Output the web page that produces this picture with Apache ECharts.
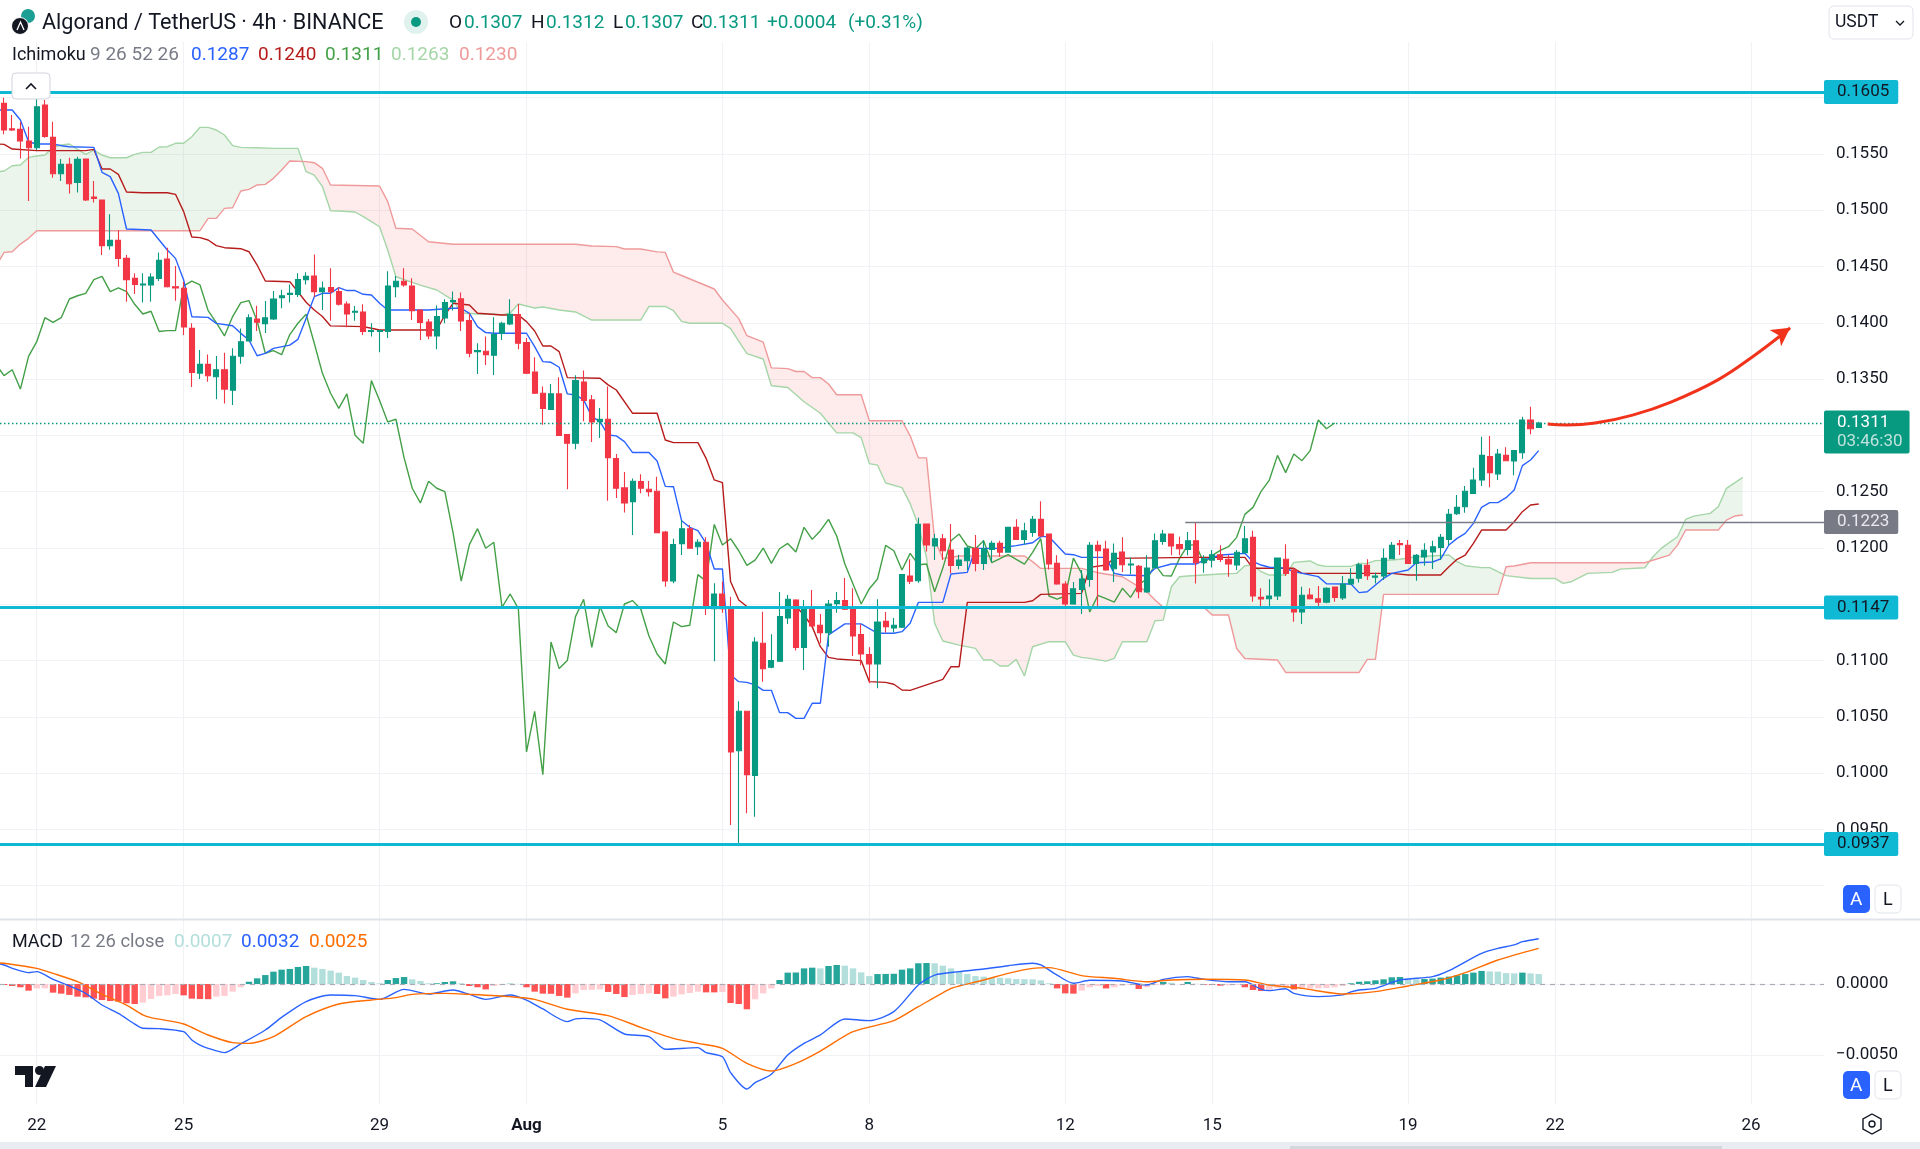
<!DOCTYPE html>
<html><head><meta charset="utf-8"><style>html,body{margin:0;padding:0;background:#fff}#c{width:1920px;height:1149px}</style>
<script src="https://cdn.jsdelivr.net/npm/echarts@6/dist/echarts.min.js"></script></head>
<body><div id="c"></div><script>
const firstBar = -4;
const opens = [.15949,.15724,.15718,.15614,.15555,.15934,.15647,.15324,.15407,.15247,
.15454,.15117,.15090,.14685,.14732,.14572,.14394,.14335,.14335,.14394,
.14566,.14320,.14306,.13950,.13553,.13630,.13521,.13583,.13400,.13702,
.13838,.14033,.13992,.14033,.14223,.14252,.14252,.14383,.14416,.14277,
.14312,.14277,.14167,.14093,.14096,.13922,.13924,.13922,.14321,.14369,
.14327,.14114,.14007,.13883,.14043,.14188,.14212,.14019,.13744,.13747,
.13711,.13907,.13990,.14073,.13824,.13563,.13374,.13231,.13368,.13007,
.12930,.13474,.13315,.13122,.13143,.12793,.12533,.12411,.12589,.12521,
.12503,.12142,.11706,.12038,.12171,.12011,.12050,.11461,.11591,.11455,
.10199,.10549,.09980,.11153,.10940,.10993,.11378,.11538,.11117,.11479,
.11313,.11248,.11505,.11532,.11461,.11230,.11052,.10969,.11348,.11289,
.11295,.11751,.11709,.12212,.12017,.12082,.11981,.11845,.11886,.11996,
.11863,.11987,.12040,.11963,.12183,.12076,.12138,.12254,.12123,.11863,
.11679,.11502,.11632,.11721,.12023,.11990,.11815,.11963,.11848,.11836,
.11608,.11827,.12058,.12123,.12029,.11987,.12064,.11869,.11892,.11940,
.11899,.11848,.11958,.12094,.11561,.11549,.11573,.11899,.11804,.11431,
.11582,.11549,.11519,.11653,.11555,.11679,.11730,.11845,.11739,.11751,
.11904,.12038,.12023,.11863,.11919,.11964,.12005,.12076,.12304,.12366,
.12485,.12603,.12811,.12657,.12822,.12772,.12846,.13136,.1307];
const closes = [.15712,.15712,.15614,.15555,.15919,.15656,.15324,.15407,.15235,.15451,
.15090,.15105,.14685,.14732,.14572,.14383,.14341,.14344,.14406,.14554,
.14320,.14309,.13962,.13559,.13630,.13530,.13583,.13411,.13702,.13832,
.14045,.14004,.14045,.14211,.14240,.14261,.14383,.14412,.14277,.14309,
.14277,.14164,.14078,.14102,.13922,.13930,.13930,.14327,.14369,.14336,
.14108,.14002,.13883,.14055,.14179,.14197,.14016,.13729,.13753,.13717,
.13895,.13996,.14076,.13818,.13551,.13374,.13240,.13368,.13000,.12930,
.13486,.13309,.13119,.13143,.12802,.12530,.12400,.12592,.12530,.12500,
.12136,.11706,.12029,.12171,.11997,.12050,.11473,.11591,.11461,.10188,
.10549,.09986,.11165,.10928,.10999,.11390,.11544,.11117,.11479,.11307,
.11248,.11502,.11532,.11455,.11218,.11058,.10969,.11342,.11301,.11313,
.11763,.11704,.12209,.12026,.12082,.11975,.11845,.11892,.11999,.11863,
.11993,.12040,.11963,.12183,.12076,.12153,.12254,.12106,.11857,.11679,
.11502,.11638,.11724,.12023,.11975,.11804,.11952,.11851,.11857,.11611,
.11821,.12064,.12123,.12017,.11993,.12064,.11869,.11904,.11940,.11898,
.11857,.11961,.12082,.11573,.11546,.11573,.11910,.11774,.11431,.11579,
.11549,.11519,.11641,.11561,.11679,.11721,.11851,.11754,.11751,.11907,
.12023,.12029,.11863,.11934,.11979,.12011,.12094,.12298,.12360,.12503,
.12603,.12822,.12669,.12834,.12775,.12864,.13136,.13059,.1311];
const highs = [.15999,.15845,.15786,.15742,.16008,.15979,.15786,.15454,.15466,.15475,
.15460,.15259,.15090,.14963,.14821,.14602,.14439,.14439,.14439,.14625,
.14667,.14504,.14365,.13995,.13758,.13719,.13704,.13734,.13773,.13950,
.14075,.14152,.14193,.14282,.14294,.14341,.14439,.14448,.14606,.14366,
.14484,.14315,.14188,.14149,.14164,.13996,.13936,.14457,.14416,.14484,
.14395,.14114,.14034,.14153,.14209,.14277,.14268,.14084,.13818,.13877,
.14049,.14010,.14209,.14167,.13865,.13694,.13433,.13457,.13516,.13007,
.13534,.13575,.13359,.13244,.13433,.12835,.12675,.12616,.12654,.12595,
.12633,.12151,.12082,.12248,.12204,.12077,.12094,.11686,.11701,.11567,
.10638,.10549,.11206,.11434,.11233,.11609,.11582,.11544,.11538,.11627,
.11413,.11538,.11609,.11733,.11641,.11322,.11117,.11544,.11431,.11378,
.11763,.11899,.12268,.12212,.12123,.12123,.12212,.11940,.12011,.12114,
.12070,.12064,.12064,.12183,.12254,.12224,.12283,.12414,.12123,.11934,
.11703,.11697,.11804,.12052,.12064,.12064,.12040,.12094,.11916,.11848,
.11934,.12129,.12159,.12123,.12100,.12141,.12224,.11934,.11981,.12023,
.11937,.11982,.12195,.12153,.11641,.11721,.11910,.12032,.11819,.11656,
.11641,.11662,.11650,.11653,.11751,.11819,.11869,.11899,.11780,.11996,
.12053,.12070,.12070,.11946,.12041,.12064,.12124,.12346,.12470,.12550,
.12713,.12988,.12994,.12879,.12894,.12864,.13166,.13255,.1312];
const lows = [.15674,.15703,.15460,.15081,.15534,.15644,.15289,.15259,.15149,.15158,
.15081,.15069,.14602,.14649,.14498,.14187,.14255,.14181,.14187,.14371,
.14314,.14196,.13891,.13429,.13500,.13476,.13320,.13284,.13269,.13636,
.13838,.13927,.13909,.14024,.14128,.14181,.14229,.14341,.14232,.14114,
.14019,.14153,.13960,.14019,.13892,.13877,.13738,.13865,.14227,.14321,
.14025,.13847,.13853,.13765,.13996,.14108,.13927,.13694,.13546,.13625,
.13537,.13847,.13981,.13765,.13546,.13368,.13095,.13226,.12995,.12521,
.12876,.13125,.12941,.12977,.12420,.12444,.12314,.12115,.12485,.12456,
.12130,.11656,.11686,.11937,.11994,.11937,.11404,.10993,.11425,.09539,
.09370,.09643,.09613,.10812,.10931,.10987,.11325,.11088,.10916,.11295,
.11153,.11123,.11425,.11449,.11040,.10957,.10797,.10753,.11248,.11248,
.11289,.11680,.11691,.11969,.11892,.11892,.11774,.11810,.11804,.11792,
.11804,.11878,.11922,.11957,.12070,.12029,.12100,.12100,.11809,.11673,
.11472,.11496,.11413,.11655,.11478,.11798,.11697,.11786,.11768,.11552,
.11602,.11821,.12029,.11934,.11934,.11934,.11685,.11780,.11827,.11875,
.11745,.11804,.11952,.11523,.11463,.11484,.11537,.11751,.11345,.11324,
.11543,.11463,.11508,.11523,.11537,.11670,.11694,.11715,.11685,.11715,
.11899,.11937,.11857,.11709,.11842,.11813,.11893,.12023,.12292,.12313,
.12479,.12550,.12538,.12603,.12775,.12645,.12793,.13009,.1307];

const tenkan = [[-5,.1589],[-4,.1589],[-3,.1589],[-2,.15801],[-1,.15608],[0,.15588],[2,.15588],[3,.15573],[4,.15564],[7,.15558],[8,.15336],[9,.15298],[10,.15149],[11,.14833],[14,.14824],[15,.14735],[16,.14646],[17,.14572],[18,.1438],[19,.14054],[21,.14048],[22,.13995],[24,.13974],[25,.13906],[26,.13847],[27,.13707],[28,.13728],[29,.13773],[31,.13802],[32,.13853],[33,.14039],[34,.14232],[35,.14262],[36,.14262],[37,.14312],[38,.14286],[39,.14286],[40,.14253],[41,.14247],[42,.14173],[43,.14114],[48,.14114],[51,.14129],[52,.14129],[53,.14084],[54,.13966],[55,.13913],[56,.13907],[60,.13907],[61,.13788],[62,.13655],[63,.13649],[64,.13605],[65,.13368],[66,.13359],[67,.13315],[68,.13166],[69,.13122],[70,.13003],[71,.12995],[72,.12944],[73,.12847],[75,.12847],[76,.12772],[77,.12547],[78,.12544],[79,.12242],[80,.12183],[81,.12154],[82,.12041],[83,.11813],[84,.11813],[85,.10872],[86,.10812],[87,.10806],[88,.10783],[89,.10735],[90,.10735],[91,.10537],[92,.10537],[93,.10486],[94,.10486],[95,.1062],[96,.1062],[97,.11227],[99,.11325],[101,.11325],[103,.11242],[105,.11242],[106,.11256],[107,.1133],[108,.11516],[111,.11516],[112,.11768],[114,.11783],[115,.11996],[118,.11996],[119,.12011],[120,.1202],[122,.12046],[123,.121],[124,.121],[126,.11946],[127,.1194],[128,.11916],[131,.11916],[132,.11774],[133,.11759],[136,.11753],[137,.11818],[139,.11857],[142,.11857],[143,.11892],[145,.11937],[148,.11952],[149,.11878],[150,.11848],[151,.11828],[153,.11819],[154,.11789],[157,.11745],[158,.11682],[161,.11679],[162,.11603],[163,.11611],[164,.11671],[165,.1173],[166,.11774],[168,.11804],[169,.11869],[171,.11875],[172,.11902],[173,.12026],[174,.12085],[175,.12129],[176,.12218],[177,.12361],[178,.12402],[179,.12402],[180,.12446],[181,.12514],[182,.12731],[183,.12781],[184,.12864]];
const kijun = [[-5,.15588],[-4,.15585],[-3,.15543],[0,.15529],[6,.15529],[7,.1554],[8,.15366],[9,.15366],[10,.15318],[11,.15161],[13,.15155],[16,.15155],[17,.15141],[18,.14987],[19,.14762],[20,.14756],[21,.14735],[22,.14685],[23,.14667],[25,.14658],[26,.14631],[27,.14513],[28,.14371],[31,.14365],[32,.14276],[33,.14182],[34,.14114],[35,.14055],[36,.13972],[40,.13966],[41,.13951],[42,.13936],[49,.13936],[50,.14069],[51,.14173],[53,.14158],[54,.14084],[57,.14069],[59,.14069],[60,.1401],[61,.13927],[62,.13794],[63,.13794],[64,.13744],[65,.13513],[69,.13507],[70,.13448],[71,.13403],[73,.13196],[76,.13196],[77,.12959],[78,.12935],[81,.12935],[82,.12796],[83,.12604],[84,.1258],[85,.11701],[86,.11538],[87,.11479],[93,.11479],[94,.11404],[95,.11301],[96,.11123],[97,.11028],[98,.11014],[101,.10999],[102,.10812],[104,.10806],[105,.10789],[106,.10738],[107,.10735],[111,.10832],[112,.10945],[113,.10945],[114,.11516],[121,.11516],[122,.11531],[123,.11587],[128,.11596],[129,.11827],[131,.11848],[132,.11907],[142,.11916],[148,.11916],[149,.11819],[154,.11819],[155,.11774],[166,.11774],[168,.11759],[172,.11759],[173,.11833],[174,.11899],[175,.11937],[176,.12041],[177,.12159],[180,.12159],[181,.12233],[182,.12322],[183,.12381],[184,.1239]];
const senkouA = [[-5,.1534],[-4,.15348],[-3,.15395],[-2,.15401],[-1,.15469],[0,.15481],[1,.1549],[2,.15558],[3,.15579],[4,.15588],[5,.1554],[6,.15496],[7,.15534],[8,.1549],[9,.15466],[11,.15466],[12,.15496],[13,.15514],[14,.15514],[15,.15561],[16,.15564],[17,.15594],[18,.15594],[19,.15653],[20,.15736],[21,.15736],[22,.15712],[23,.15668],[24,.15573],[25,.15558],[27,.15555],[29,.15549],[32,.15549],[33,.15342],[34,.15312],[35,.15209],[36,.14995],[37,.14993],[39,.14984],[40,.14942],[41,.14898],[42,.14853],[43,.14646],[44,.14409],[47,.14335],[49,.14291],[51,.14202],[52,.14087],[54,.14078],[56,.14078],[57,.14069],[58,.14087],[59,.14167],[61,.14131],[62,.1414],[64,.14113],[66,.14096],[68,.14024],[74,.14024],[75,.14145],[77,.14145],[78,.14107],[79,.14012],[80,.13996],[84,.13996],[85,.13948],[87,.13726],[89,.13678],[90,.1344],[92,.13425],[94,.13298],[96,.13196],[98,.13022],[100,.13022],[101,.1298],[102,.12749],[103,.12736],[104,.12577],[106,.12536],[107,.12393],[108,.12203],[109,.11917],[110,.1133],[111,.11173],[113,.11137],[115,.11108],[116,.11004],[117,.11004],[118,.10951],[119,.10951],[120,.1101],[121,.10862],[122,.11122],[124,.11167],[126,.11167],[127,.11048],[128,.11028],[129,.11019],[131,.10995],[132,.11019],[133,.11167],[136,.11167],[137,.11353],[138,.11359],[139,.11655],[140,.11744],[141,.1175],[143,.11759],[145,.11768],[147,.11774],[148,.11842],[149,.11848],[150,.11789],[151,.11759],[153,.11759],[154,.11872],[156,.11884],[157,.11848],[158,.11836],[161,.11836],[162,.11863],[163,.11863],[164,.11887],[166,.11893],[167,.11899],[169,.11922],[173,.11937],[174,.11878],[175,.11842],[177,.11825],[178,.11825],[179,.11789],[180,.11754],[183,.11729],[186,.11729],[187,.11685],[188,.117],[190,.11774],[193,.11783],[194,.11812],[197,.11824],[198,.11922],[199,.11996],[201,.12099],[202,.12253],[203,.12283],[205,.12307],[206,.12366],[207,.12529],[209,.12626]];
const senkouB = [[-5,.145],[-4,.14625],[-3,.14631],[-2,.14699],[-1,.1475],[0,.14818],[20,.14818],[21,.14927],[22,.14927],[23,.15016],[24,.15022],[25,.1517],[26,.15185],[27,.15224],[28,.15229],[29,.15283],[30,.15357],[31,.15437],[33,.15431],[34,.15422],[35,.15372],[36,.15224],[42,.15215],[43,.15076],[44,.14839],[46,.14833],[48,.1472],[51,.14697],[66,.14697],[68,.14682],[71,.14676],[72,.14655],[74,.14655],[76,.1463],[77,.14625],[78,.1445],[79,.1442],[81,.1436],[83,.143],[84,.14202],[86,.14037],[87,.13885],[89,.13828],[90,.13599],[92,.13593],[93,.13567],[94,.13567],[95,.13513],[96,.13513],[97,.13456],[98,.13361],[101,.13361],[102,.1313],[106,.1313],[107,.12996],[108,.128],[109,.128],[110,.1207],[111,.11907],[113,.11928],[121,.11928],[122,.11878],[123,.11818],[128,.11818],[130,.1178],[133,.11744],[136,.11611],[137,.11537],[138,.11472],[143,.11472],[144,.11404],[146,.11404],[147,.11107],[148,.11018],[152,.11004],[153,.10894],[162,.10894],[163,.1101],[164,.1101],[165,.11587],[179,.11587],[180,.11833],[181,.11839],[183,.11868],[197,.11868],[200,.11936],[201,.12025],[202,.12159],[206,.12159],[207,.12247],[208,.12283],[209,.12292]];

const histogram = [-.00007,-.00014,-.00023,-.00047,-.00031,-.0003,-.00061,-.00068,-.00077,-.00089,
-.00094,-.00103,-.00113,-.0012,-.00124,-.00136,-.00141,-.00131,-.00106,-.00084,
-.0008,-.0007,-.0008,-.00103,-.00106,-.00107,-.00089,-.00084,-.00054,-.00023,
.00016,.0004,.00063,.00087,.00101,.00106,.0012,.00127,.00115,.00106,
.00094,.0008,.00056,.00045,.00028,.00014,.00005,.00028,.00042,.00049,
.00033,.00021,.00005,.00005,.00014,.00019,.00005,-.00014,-.00023,-.00038,
-.00014,-.00007,.00002,.00001,-.00023,-.00054,-.00068,-.00069,-.00084,-.00096,
-.00066,-.00042,-.00041,-.00038,-.00056,-.0007,-.00092,-.00077,-.0007,-.00066,
-.0007,-.00101,-.00089,-.00073,-.00063,-.00054,-.00059,-.00059,-.00056,-.00134,
-.00141,-.00178,-.00108,-.00066,-.00031,.00028,.0008,.00081,.0011,.00115,
.0011,.00127,.00134,.00129,.0011,.00082,.00056,.0007,.00071,.00072,
.00101,.0011,.00146,.00148,.00146,.00129,.0011,.00092,.0007,.00056,
.00052,.00045,.00044,.0004,.00035,.00034,.00033,.00026,.00005,-.00031,
-.00066,-.00068,-.00047,-.00023,-.00014,-.00031,-.00023,-.00012,-.00007,-.00035,
-.00023,-.00007,.00014,.00009,0,.00014,.00002,-.00005,-.00007,-.00012,
-.00009,-.00005,-.00023,-.00042,-.00049,-.00047,-.00028,-.00023,-.00038,-.00033,
-.00032,-.00031,-.00028,-.00023,-.00014,.00005,.00016,.00019,.00026,.00033,
.00047,.00049,.00038,.00033,.00035,.00038,.00045,.00052,.00061,.0007,
.0008,.00092,.00089,.00087,.00077,.00075,.0008,.00075,.0007];
const macdLine = [[-5,.00145],[-4,.00134],[-3,.0011],[-1,.0008],[0,.00087],[2,.00033],[4,-.00014],[6,-.00066],[8,-.00148],[10,-.00207],[12,-.00282],[13,-.00312],[15,-.00314],[18,-.00336],[19,-.00394],[20,-.0043],[21,-.00453],[23,-.00483],[25,-.00422],[28,-.00324],[30,-.00235],[33,-.00124],[36,-.00077],[39,-.00082],[42,-.00108],[45,-.00038],[48,-.0007],[51,-.00042],[53,-.00073],[55,-.00108],[58,-.00077],[60,-.00113],[62,-.00176],[65,-.00265],[66,-.00246],[67,-.00242],[69,-.00253],[72,-.00352],[75,-.00371],[77,-.0046],[81,-.00448],[82,-.00483],[84,-.00512],[85,-.00624],[87,-.00739],[88,-.00695],[90,-.00636],[92,-.005],[94,-.00418],[96,-.00359],[99,-.00246],[102,-.00258],[105,-.00195],[108,-.00007],[110,.00063],[113,.00087],[116,.00106],[119,.00129],[122,.00146],[123,.00134],[125,.00063],[127,.00005],[129,.00026],[133,.00021],[135,-.00002],[136,-.00007],[138,.00033],[141,.00052],[143,.00033],[146,.00016],[148,.00016],[150,-.00038],[151,-.00047],[153,-.00033],[154,-.00066],[157,-.00089],[160,-.00077],[161,-.00056],[162,-.00042],[164,-.00031],[167,.00028],[171,.00052],[173,.00094],[177,.00216],[179,.00251],[181,.00275],[182,.00298],[184,.00319]];
const signalLine = [[-5,.00148],[-4,.00146],[0,.0011],[2,.00075],[5,.00016],[8,-.00073],[11,-.00148],[13,-.00218],[14,-.00237],[18,-.00282],[21,-.00359],[24,-.00413],[26,-.00418],[29,-.00371],[33,-.0023],[37,-.00141],[41,-.00113],[44,-.00096],[46,-.00073],[50,-.00066],[53,-.00073],[58,-.00089],[61,-.00108],[65,-.00178],[70,-.00223],[74,-.00305],[78,-.00383],[81,-.00418],[84,-.00453],[87,-.00559],[90,-.00613],[93,-.00559],[96,-.00472],[100,-.00336],[105,-.00258],[108,-.0016],[112,-.00031],[113,-.00014],[116,.00028],[119,.00075],[122,.0011],[124,.00115],[128,.00059],[132,.0004],[136,.00016],[139,.00028],[143,.00033],[148,.00028],[151,-.00007],[155,-.00031],[160,-.0007],[164,-.00054],[168,-.00014],[172,.00028],[175,.0008],[179,.00169],[184,.00251]];
const forecastPath = [[185.1,.1310],[187.4,.13092],[190.9,.13109],[195.5,.1318],[200.2,.13296],[205.9,.13491],[210.5,.13714],[214.2,.13918],[214.8,.13955]];

const tickBars = [0,18,42,60,84,102,126,144,168,186,210];
const tickLabels = ['22','25','29','Aug','5','8','12','15','19','22','26'];
const priceGrid = [.09,.095,.1,.105,.11,.115,.12,.125,.13,.135,.14,.145,.15,.155,.16,.165];
const priceLabels = [.095,.1,.105,.11,.115,.12,.125,.13,.135,.14,.145,.15,.155,.16,.165];
const macdTicks = [0,-.005];
const levelsCyan = [0.1605,0.1147,0.0937];
const levelGray = 0.1223, levelGrayStart = 140.7;
const lastPrice = 0.1311, countdown = '03:46:30';

const FONT = 'Roboto, "Noto Sans", sans-serif';
const XMIN = -4.5, XMAX = 218.95;
const UP = '#089981', DOWN = '#F23645', CYAN = '#0FB9D4';
const candles = opens.map((o,i)=>[i+firstBar,o,closes[i],lows[i],highs[i]]);
const chikou = closes.slice(24).map((c,i)=>[i-5,c]);
const histData = histogram.map((v,i)=>{
  const p = i? histogram[i-1] : v;
  const color = v>=0 ? (v>=p?'#26A69A':'#B2DFDB') : (v<=p?'#FF5252':'#FFCDD2');
  return {value:[i+firstBar,v], itemStyle:{color}};
});
const at = (arr,x)=>{ for(let i=1;i<arr.length;i++){ if(x<=arr[i][0]){const a=arr[i-1],b=arr[i];return a[1]+(b[1]-a[1])*(x-a[0])/(b[0]-a[0]);}} return arr[arr.length-1][1]; };
function cloudItem(params,api){
  const regions=[]; let cur=null;
  const push=(x,a,b,sign)=>{ if(!cur||cur.sign!==sign){ if(cur){cur.up.push([x,a]);cur.lo.push([x,b]);regions.push(cur);} cur={sign,up:[],lo:[]}; } cur.up.push([x,a]);cur.lo.push([x,b]); };
  let px=null,pd=null;
  for(let x=-5;x<=209;x++){
    const a=at(senkouA,x),b=at(senkouB,x),d=a-b;
    if(pd!==null&&pd*d<0){ const t=pd/(pd-d),xc=px+t,yc=at(senkouA,xc); push(xc,yc,yc,d>0?1:-1); }
    push(x,a,b,d>=0?1:-1); px=x;pd=d;
  }
  regions.push(cur);
  return {type:'group',children:regions.map(r=>({type:'polygon',silent:true,
    shape:{points:r.up.concat(r.lo.slice().reverse()).map(p=>api.coord(p))},
    style:{fill:r.sign>0?'rgba(67,160,71,0.10)':'rgba(242,54,69,0.10)'}}))};
}
const lineS=(data,color,z,w,extra)=>Object.assign({type:'line',data,showSymbol:false,symbol:'none',silent:true,animation:false,z,
  lineStyle:{color,width:w||1.4},itemStyle:{color},xAxisIndex:0,yAxisIndex:0},extra||{});
const lvl=(v,color,txt,from,width,labelExtra)=>[{name:txt,coord:[from,v],lineStyle:{color,width,type:'solid'},label:Object.assign({show:true,position:'end',formatter:'{b}',distance:0,color:'#131722',fontFamily:FONT,fontSize:17,backgroundColor:color,padding:[6,9,2,13],borderRadius:2,lineHeight:16},labelExtra||{})},{coord:[XMAX,v]}];
const markData=[...levelsCyan.map(v=>lvl(v,CYAN,v.toFixed(4),XMIN,3)),
  lvl(levelGray,'#787B86',levelGray.toFixed(4),levelGrayStart,1.4,{color:'#E8E9EE'}),
  [{name:'p',coord:[XMIN,lastPrice],lineStyle:{color:UP,width:1.3,type:[1.5,2.5]},label:{show:true,position:'end',distance:0,formatter:'{a|'+lastPrice.toFixed(4)+'}\n{b|'+countdown+'}',backgroundColor:UP,padding:[3,7,2,13],borderRadius:2,offset:[0,9],rich:{a:{color:'#fff',fontFamily:FONT,fontSize:17,lineHeight:19},b:{color:'#BFE3DC',fontFamily:FONT,fontSize:17,lineHeight:19}}}},{coord:[XMAX,lastPrice]}]];

const T=(x,y,text,fill,size,extra)=>({type:'text',x,y,z:110,silent:true,style:Object.assign({text,fill,font:(size||19)+'px '+FONT,textVerticalAlign:'middle',verticalAlign:'middle'},extra||{})});
const box=(x,y,w,h,fill,stroke,r,z)=>({type:'rect',z:z||105,silent:true,shape:{x,y,width:w,height:h,r:r||0},style:{fill,stroke:stroke||null,lineWidth:stroke?1:0}});
const ALbtn=(y)=>[box(1843,y,27,28,'#2962FF',null,5),T(1850,y+15,'A','#fff',19),box(1875,y,26,28,'#fff','#E0E3EB',5),T(1883,y+15,'L','#131722',18)];
const graphics=[
  box(1824,0,96,37,'#fff',null,0,100),
  box(0,1142,1920,7,'#E9ECF2',null,0,104),
  box(1290,1146,432,3,'#D4D7DE',null,0,105),
  {type:'line',z:104,silent:true,shape:{x1:0,y1:919.5,x2:1920,y2:919.5},style:{stroke:'#E0E3EB',lineWidth:2}},
  {type:'circle',z:106,silent:true,shape:{cx:28,cy:16,r:7},style:{fill:'#1B9E93'}},
  {type:'circle',z:107,silent:true,shape:{cx:20,cy:26,r:8.5},style:{fill:'#131722',stroke:'#fff',lineWidth:1}},
  {type:'polyline',z:108,silent:true,shape:{points:[[17,30],[20.5,22],[24,30]]},style:{stroke:'#fff',lineWidth:1.3,fill:null}},
  T(42,24,'Algorand / TetherUS · 4h · BINANCE','#131722',21.6),
  {type:'circle',z:106,silent:true,shape:{cx:416,cy:22,r:12},style:{fill:'#E0F2EE'}},
  {type:'circle',z:107,silent:true,shape:{cx:416,cy:22,r:5},style:{fill:UP}},
  T(449,23,'O','#131722'),T(464,23,'0.1307',UP),T(531,23,'H','#131722'),T(546,23,'0.1312',UP),T(613,23,'L','#131722'),T(625,23,'0.1307',UP),T(691,23,'C','#131722'),T(702,23,'0.1311',UP),T(767,23,'+0.0004',UP),T(848,23,'(+0.31%)',UP),
  T(12,55,'Ichimoku','#131722',18),T(90,55,'9 26 52 26','#787B86',19),
  T(191,55,'0.1287','#2962FF'),T(258,55,'0.1240','#B71C1C'),T(325,55,'0.1311','#43A047'),T(391,55,'0.1263','#A5D6A7'),T(459,55,'0.1230','#EF9A9A'),
  T(12,942,'MACD','#131722',18),T(70,942,'12 26 close','#787B86',18.4),
  T(174,942,'0.0007','#B2DFDB'),T(241,942,'0.0032','#2962FF'),T(309,942,'0.0025','#FF6D00'),
  box(12,73,38,26,'#fff','#D1D4DC',4),
  {type:'polyline',z:106,silent:true,shape:{points:[[26,89],[31,84],[36,89]]},style:{stroke:'#131722',lineWidth:1.6,fill:null}},
  box(1829,6,84,33,'#fff','#E0E3EB',5),T(1835,23,'USDT','#131722',17.5),
  {type:'polyline',z:106,silent:true,shape:{points:[[1896,21],[1900,25],[1904,21]]},style:{stroke:'#131722',lineWidth:1.3,fill:null}},
  ...ALbtn(885),...ALbtn(1071),
  {type:'polygon',z:106,silent:true,shape:{points:[[15,1066],[33,1066],[33,1087],[25,1087],[25,1075],[15,1075]]},style:{fill:'#131722'}},
  {type:'circle',z:106,silent:true,shape:{cx:39.5,cy:1070.5,r:4.5},style:{fill:'#131722'}},
  {type:'polygon',z:106,silent:true,shape:{points:[[45,1066],[56,1066],[46,1087],[35,1087]]},style:{fill:'#131722'}},
  {type:'polygon',z:106,silent:true,shape:{points:[[1872,1114],[1881,1119],[1881,1129],[1872,1134],[1863,1129],[1863,1119]]},style:{fill:'#fff',stroke:'#131722',lineWidth:1.4}},
  {type:'circle',z:107,silent:true,shape:{cx:1872,cy:1124,r:3},style:{fill:'#fff',stroke:'#131722',lineWidth:1.4}}
];
const xAxisBase=(gi,showLabel)=>({type:'value',gridIndex:gi,min:XMIN,max:XMAX,axisLine:{show:false},
  axisTick:{show:false,customValues:tickBars},
  splitLine:{show:true,lineStyle:{color:'#F0F2F5',width:1.2}},
  axisLabel:{show:showLabel,customValues:tickBars,margin:13,hideOverlap:false,showMinLabel:true,showMaxLabel:true,fontFamily:FONT,fontSize:17,color:'#131722',
    formatter:v=>{const t=tickLabels[tickBars.indexOf(v)];return t==='Aug'?'{b|Aug}':t;},rich:{b:{fontWeight:'bold',fontFamily:FONT,fontSize:17,color:'#131722'}}}});
const opt={animation:false,backgroundColor:'#fff',
  grid:[{left:0,width:1824,top:42,height:878},{left:0,width:1824,top:920,height:184}],
  xAxis:[xAxisBase(0,false),xAxisBase(1,true)],
  yAxis:[{type:'value',gridIndex:0,position:'right',min:.08695,max:.16494,axisLine:{show:false},
      axisTick:{show:false,customValues:priceGrid},splitLine:{show:true,lineStyle:{color:'#F0F2F5',width:1.2}},
      axisLabel:{customValues:priceLabels,margin:12,padding:[5,0,0,0],fontFamily:FONT,fontSize:17,color:'#131722',formatter:v=>v.toFixed(4)}},
    {type:'value',gridIndex:1,position:'right',min:-.008451,max:.004507,axisLine:{show:false},
      axisTick:{show:false,customValues:macdTicks},splitLine:{show:true,lineStyle:{color:'#F0F2F5',width:1.2}},
      axisLabel:{customValues:macdTicks,margin:12,padding:[5,0,0,0],fontFamily:FONT,fontSize:17,color:'#131722',formatter:v=>v===0?'0.0000':'\u2212'+Math.abs(v).toFixed(4)}}],
  series:[
    {type:'custom',renderItem:cloudItem,data:[0],xAxisIndex:0,yAxisIndex:0,silent:true,z:1,clip:true},
    lineS(senkouA,'#A5D6A7',2,1.4),
    lineS(senkouB,'#EF9A9A',2,1.4),
    lineS(chikou,'#43A047',3,1.4),
    lineS(kijun,'#B71C1C',3,1.4),
    lineS(tenkan,'#2962FF',3,1.4),
    {type:'candlestick',data:candles,encode:{x:0,y:[1,2,3,4]},xAxisIndex:0,yAxisIndex:0,barWidth:5.6,silent:true,z:4,
      itemStyle:{color:UP,color0:DOWN,borderColor:UP,borderColor0:DOWN,borderWidth:1.1}},
    {type:'line',data:[],xAxisIndex:0,yAxisIndex:0,silent:true,z:6,
      markLine:{silent:true,symbol:'none',animation:false,data:markData}},
    {type:'line',xAxisIndex:0,yAxisIndex:0,silent:true,z:7,smooth:.4,showSymbol:true,showAllSymbol:true,
      lineStyle:{color:'#F2331C',width:3},itemStyle:{color:'#F2331C'},
      data:forecastPath.map((p,i)=>i===forecastPath.length-1?{value:p,symbol:'arrow',symbolSize:[15,18],symbolRotate:-55}:{value:p,symbol:'none'})},
    {type:'bar',data:histData,xAxisIndex:1,yAxisIndex:1,barWidth:6.4,silent:true,z:2,
      markLine:{silent:true,symbol:'none',animation:false,label:{show:false},lineStyle:{color:'#A9ACB5',type:[5,5],width:1.2},data:[{yAxis:0}]}},
    {type:'line',data:macdLine,xAxisIndex:1,yAxisIndex:1,showSymbol:false,silent:true,smooth:.25,z:3,lineStyle:{color:'#2962FF',width:1.4}},
    {type:'line',data:signalLine,xAxisIndex:1,yAxisIndex:1,showSymbol:false,silent:true,smooth:.25,z:3,lineStyle:{color:'#FF6D00',width:1.4}}
  ],
  graphic:{elements:graphics}};
const chart=echarts.init(document.getElementById('c'),null,{renderer:'canvas'});
chart.setOption(opt);
</script></body></html>
